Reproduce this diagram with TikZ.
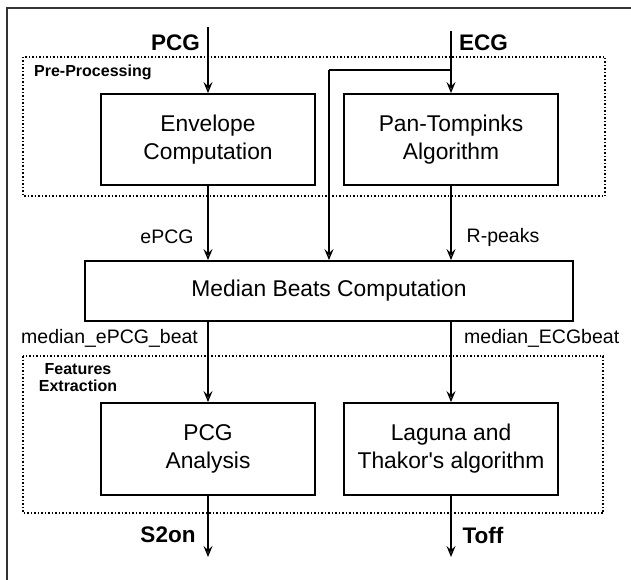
\documentclass[tikz,border=0pt]{standalone}
\usepackage{fontspec}
\setmainfont{Liberation Sans}
\usetikzlibrary{arrows.meta}
\begin{document}
\begin{tikzpicture}[x=1pt,y=-1pt,
  blk/.style={draw, line width=1.8pt, rectangle, inner sep=0pt, align=center,
    font=\fontsize{22.8}{28}\selectfont, minimum width=214pt, minimum height=91pt},
  arr/.style={line width=1.4pt, -{Stealth[open, length=11pt, width=9pt, inset=4pt]}},
  ln/.style={line width=1.4pt},
  grp/.style={line width=1.5pt, dotted},
  lab/.style={font=\fontsize{19.5}{22}\selectfont, inner sep=0pt},
  blab/.style={font=\fontsize{22.5}{26}\selectfont\bfseries, inner sep=0pt},
  slab/.style={font=\fontsize{16}{20}\selectfont\bfseries, inner sep=0pt, align=center}
]
\useasboundingbox (0,0) rectangle (631,580);
% outer frame (only top and left visible)
\draw[line width=2pt, black!80] (632,8) -- (7,8) -- (7,581);

% groups
\draw[grp] (23,57) rectangle (605,196);
\draw[grp] (23,356) rectangle (603,513);
\node[slab, anchor=west] (pre) at (34,72) {Pre-Processing};
\node[slab] (feat) at (78,378) {Features\\[-3pt]Extraction};

% blocks
\node[blk] (env) at (208,139.5) {Envelope\\Computation};
\node[blk] (pan) at (451,139.5) {Pan-Tompinks\\Algorithm};
\node[blk, minimum width=488pt, minimum height=60pt] (med) at (329,291) {Median Beats Computation};
\node[blk, minimum height=92pt] (pcga) at (208,449) {PCG\\Analysis};
\node[blk, minimum height=92pt] (lag) at (451,449) {Laguna and\\Thakor\textquotesingle s algorithm};

% inputs
\coordinate (pcgin) at (208,27);
\coordinate (ecgin) at (451,31);
\coordinate (br) at (451,70);
\coordinate (brl) at (329,70);
\node[blab, anchor=east] (pcgl) at (200,43) {PCG};
\node[blab, anchor=west] (ecgl) at (459,43) {ECG};

\draw[arr] (pcgin) -- (env.north);
\draw[arr] (ecgin) -- (pan.north);
\draw[ln] (br) -- (brl);
\draw[arr] (brl) -- (brl |- med.north);

\draw[arr] (env.south) -- (env.south |- med.north);
\draw[arr] (pan.south) -- (pan.south |- med.north);
\node[lab] (epcg) at (167,237) {ePCG};
\node[lab] (rpk) at (503,237) {R-peaks};

\draw[arr] (pcga.north |- med.south) -- (pcga.north);
\draw[arr] (lag.north |- med.south) -- (lag.north);
\node[lab, anchor=west] (mep) at (21,338) {median\_ePCG\_beat};
\node[lab, anchor=west] (mec) at (464,338) {median\_ECGbeat};

\coordinate (s2out) at (208,557);
\coordinate (toout) at (451,557);
\draw[arr] (pcga.south) -- (s2out);
\draw[arr] (lag.south) -- (toout);
\node[blab] (s2) at (168,535) {S2on};
\node[blab] (tof) at (483,535) {Toff};
\end{tikzpicture}
\end{document}
